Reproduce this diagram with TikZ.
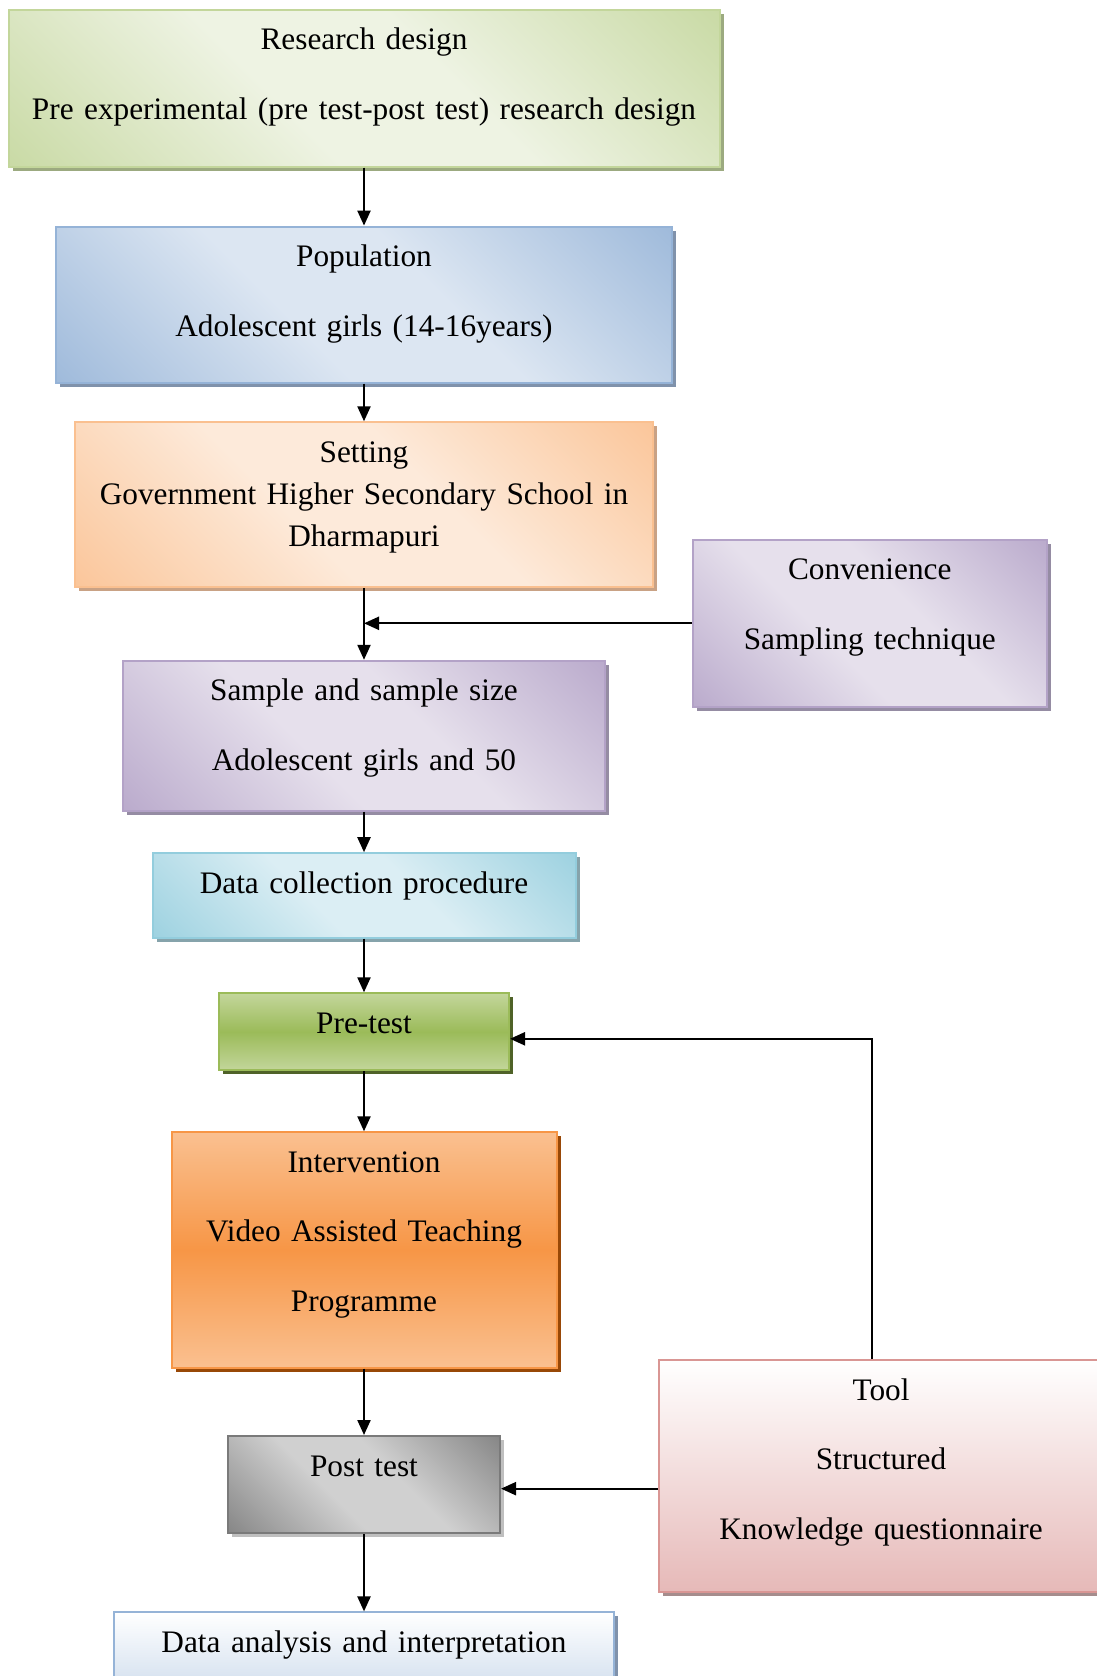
\documentclass[tikz,border=0pt]{standalone}
\usepackage{fontspec}
\setmainfont{Liberation Serif}
\usepackage{xcolor}
\usepackage{tikz}
\usetikzlibrary{shapes,arrows.meta,positioning,shadows}

\definecolor{greenlight}{HTML}{EEF3E3}
\definecolor{greendark}{HTML}{C3D69B}
\definecolor{greenshadow}{HTML}{9CAA80}
\definecolor{bluelight}{HTML}{DCE6F2}
\definecolor{bluedark}{HTML}{95B3D7}
\definecolor{blueshadow}{HTML}{8092AB}
\definecolor{peachlight}{HTML}{FDEADA}
\definecolor{peachdark}{HTML}{FAC090}
\definecolor{peachshadow}{HTML}{C9A285}
\definecolor{lilaclight}{HTML}{E6E0EC}
\definecolor{lilacdark}{HTML}{B3A2C7}
\definecolor{lilacshadow}{HTML}{958CA3}
\definecolor{aqualight}{HTML}{DBEEF4}
\definecolor{aquadark}{HTML}{93CDDD}
\definecolor{aquashadow}{HTML}{86A3AB}
\definecolor{leafdark}{HTML}{9BBB59}
\definecolor{leaflight}{HTML}{C3D69B}
\definecolor{leafshadow}{HTML}{4F6228}
\definecolor{orangedark}{HTML}{F79646}
\definecolor{orangelight}{HTML}{FAC090}
\definecolor{orangeshadow}{HTML}{984807}
\definecolor{graydark}{HTML}{7A7A7A}
\definecolor{graylight}{HTML}{D0D0D0}
\definecolor{grayshadow}{HTML}{BFBFBF}
\definecolor{roseedge}{HTML}{D99694}
\definecolor{rosedark}{HTML}{E6B9B8}
\definecolor{roseshadow}{HTML}{A58D8D}
\definecolor{skydark}{HTML}{B9CDE5}

% soft diagonal fill: dark corners, broad light middle
\colorlet{stagedark}{black}
\colorlet{stagelight}{white}
\pgfdeclareverticalshading[stagedark,stagelight]{softdiag}{100bp}{%
  color(0bp)=(stagedark); color(10bp)=(stagedark); color(42bp)=(stagelight);
  color(58bp)=(stagelight); color(90bp)=(stagedark); color(100bp)=(stagedark)}

\begin{document}
\begin{tikzpicture}[x=1pt, y=-1pt,
    >={Triangle[length=15pt,width=13pt]},
    stagebox/.style={draw, line width=2pt, inner sep=0pt, anchor=north, align=center,
        text height=40pt, font=\fontsize{31.3}{69.5}\selectfont},
    diagfill/.style 2 args={/utils/exec={\colorlet{stagedark}{#1}\colorlet{stagelight}{#2}},
        shade, shading=softdiag, shading angle=135},
    bandfill/.style 2 args={top color=#1, bottom color=#1, middle color=#2},
    shadowed/.style={drop shadow={shadow xshift=4pt, shadow yshift=-4pt, fill=#1, opacity=1}},
    flow/.style={->, line width=2.2pt}]
        \useasboundingbox (0,0) rectangle (1096,1676);

        % Main column
        \node[stagebox, draw=greendark, diagfill={greendark}{greenlight}, shadowed=greenshadow,
            text width=711pt, text depth=117pt] (design) at (364,8.6)
            {Research design\\Pre experimental (pre test-post test) research design};
        \node[stagebox, draw=bluedark, diagfill={bluedark}{bluelight}, shadowed=blueshadow,
            text width=616pt, text depth=116pt] (population) at (364,225.6)
            {Population\\Adolescent girls (14-16years)};
        \node[stagebox, draw=peachdark, diagfill={peachdark}{peachlight}, shadowed=peachshadow,
            font=\fontsize{31.3}{42.2}\selectfont,
            text width=578pt, text depth=124.7pt] (setting) at (364,421.3)
            {Setting\\Government Higher Secondary School in\\Dharmapuri};
        \node[stagebox, draw=lilacdark, diagfill={lilacdark}{lilaclight}, shadowed=lilacshadow,
            text width=482pt, text depth=109.7pt] (sample) at (364,659.8)
            {Sample and sample size\\Adolescent girls and 50};
        \node[stagebox, draw=aquadark, diagfill={aquadark}{aqualight}, shadowed=aquashadow,
            text width=423pt, text depth=44.5pt] (collection) at (364,852.2)
            {Data collection procedure};
        \node[stagebox, draw=leafdark, bandfill={leaflight}{leafdark},
            shadowed=leafshadow, text width=290pt, text depth=37pt] (pretest) at (364,992.3)
            {Pre-test};
        \node[stagebox, draw=orangedark, bandfill={orangelight}{orangedark},
            shadowed=orangeshadow, text width=385pt, text depth=195.3pt] (intervention) at (364,1131.3)
            {Intervention\\Video Assisted Teaching\\Programme};
        \node[stagebox, draw=graydark, diagfill={graydark}{graylight}, shadowed=grayshadow,
            text width=272pt, text depth=57.3pt] (posttest) at (364,1435)
            {Post test};
        \node[stagebox, draw=bluedark, top color=white, bottom color=skydark, shadowed=blueshadow,
            text width=500pt, text depth=80pt] (analysis) at (364,1611.4)
            {Data analysis and interpretation};

        % Side boxes
        \node[stagebox, draw=lilacdark, diagfill={lilacdark}{lilaclight}, shadowed=lilacshadow,
            text width=354pt, text depth=126.8pt] (convenience) at (869.8,538.9)
            {Convenience\\Sampling technique};
        \node[stagebox, draw=roseedge, top color=white, bottom color=rosedark, shadowed=roseshadow,
            text width=445pt, text depth=192pt] (tool) at (881,1359)
            {Tool\\Structured\\Knowledge questionnaire};

        % Arrows
        \draw[flow] (design) -- (population);
        \draw[flow] (population) -- (setting);
        \draw[flow] (setting) -- (sample);
        \coordinate (join) at (setting.south |- convenience.west);
        \draw[flow] (convenience) -- (join);
        \draw[flow] (sample) -- (collection);
        \draw[flow] (collection) -- (pretest);
        \draw[flow] (pretest) -- (intervention);
        \draw[flow] (intervention) -- (posttest);
        \draw[flow] (posttest) -- (analysis);
        \draw[flow] ([xshift=-9pt]tool.north) |- ([yshift=-7pt]pretest.east);
        \draw[flow] ([yshift=-4pt]tool.west |- posttest.east) -- ([yshift=-4pt]posttest.east);
    \end{tikzpicture}
\end{document}
